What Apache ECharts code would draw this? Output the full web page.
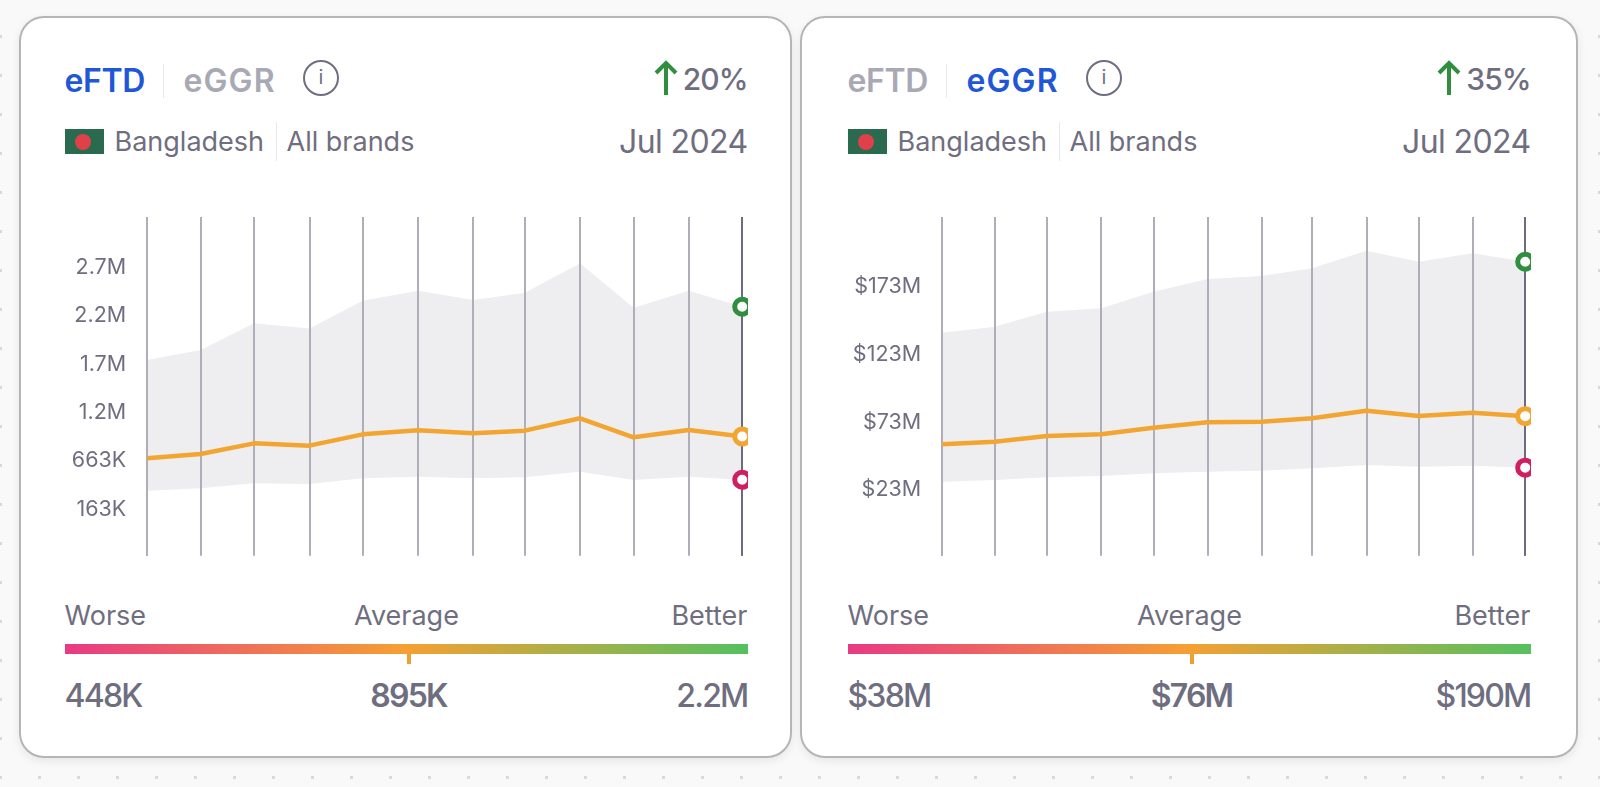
<!DOCTYPE html>
<html>
<head>
<meta charset="utf-8">
<script src="https://cdn.jsdelivr.net/npm/echarts@6/dist/echarts.min.js"></script>
<style>
  html, body { margin: 0; padding: 0; }
  body {
    width: 1600px; height: 787px; overflow: hidden; position: relative;
    font-family: Inter, "Noto Sans", sans-serif; color: #6f6e80;
    background-color: #f9f9f9;
    background-image: radial-gradient(circle, #d9d9d9 1.5px, transparent 2px);
    background-size: 39px 39px;
    background-position: -19px 17px;
  }
  .card {
    position: absolute; top: 15.5px; width: 773px; height: 742px; box-sizing: border-box;
    background: #fff; border: 2px solid #b5b5b8; border-radius: 25px;
    box-shadow: 0 3px 10px rgba(0,0,0,0.08);
  }
  .panel { position: absolute; top: 0; width: 683px; height: 787px; }
  .panel > * { position: absolute; white-space: nowrap; }
  .tab { top: 61px; line-height: 40px; font-size: 32px; font-weight: 600; letter-spacing: -0.4px; color: #a9a9b6; }
  .tab.wide { letter-spacing: 1.1px; }
  .tab.on { color: #1f57d6; }
  .sep { width: 1.5px; background: #e8e8ec; }
  .info {
    left: 238.5px; top: 60px; width: 36px; height: 36px; box-sizing: border-box;
    border: 2.5px solid #6f6e80; border-radius: 50%;
    text-align: center; line-height: 31px; font-size: 20px;
  }
  .pct { right: 0; top: 59px; line-height: 40px; font-size: 30px; font-weight: 500; letter-spacing: -1px; }
  .arrow { top: 60px; }
  .flag { left: 0; top: 129px; width: 39px; height: 25px; background: #2a6a4f; }
  .flag i { position: absolute; left: 10px; top: 4.5px; width: 16px; height: 16px; border-radius: 50%; background: #e0404a; }
  .sub { top: 122px; line-height: 40px; font-size: 27px; }
  .date { right: 0; top: 122px; line-height: 40px; font-size: 32px; letter-spacing: -0.6px; }
  .scale { top: 596px; line-height: 40px; font-size: 27px; }
  .bar {
    left: 0; top: 644px; width: 683px; height: 10px;
    background: linear-gradient(90deg, #e83a84 0%, #f5a033 50%, #55c05f 100%);
  }
  .mark { left: 342px; top: 654px; width: 4px; height: 10px; background: #f0a030; }
  .num { top: 676px; line-height: 40px; font-size: 32px; font-weight: 500; letter-spacing: -1.8px; }
  .chart { position: absolute; left: -5px; top: 200px; width: 688px; height: 370px; }
</style>
</head>
<body>
  <div class="card" style="left:18.5px"></div>
  <div class="card" style="left:799.5px;width:778px"></div>

  <div class="panel" style="left:64.5px">
    <span class="tab on" style="left:0">eFTD</span>
    <div class="sep" style="left:98px;top:64px;height:34px"></div>
    <span class="tab wide" style="left:119px">eGGR</span>
    <div class="info">i</div>
    <svg class="arrow" style="left:588px" width="26" height="36" viewBox="0 0 26 36"><path d="M13 35V3M3 13L13 3L23 13" fill="none" stroke="#2f8f3e" stroke-width="4"/></svg>
    <span class="pct">20%</span>
    <div class="flag"><i></i></div>
    <span class="sub" style="left:50px">Bangladesh</span>
    <div class="sep" style="left:211px;top:122px;height:39px"></div>
    <span class="sub" style="left:222px">All brands</span>
    <span class="date">Jul 2024</span>
    <div class="chart" id="chartFtd"></div>
    <span class="scale" style="left:0">Worse</span>
    <span class="scale" style="left:342px;transform:translateX(-50%)">Average</span>
    <span class="scale" style="right:0">Better</span>
    <div class="bar"></div>
    <div class="mark"></div>
    <span class="num" style="left:0">448K</span>
    <span class="num" style="left:344px;transform:translateX(-50%);font-weight:600">895K</span>
    <span class="num" style="right:0">2.2M</span>
  </div>

  <div class="panel" style="left:847.5px">
    <span class="tab" style="left:0">eFTD</span>
    <div class="sep" style="left:98px;top:64px;height:34px"></div>
    <span class="tab on wide" style="left:119px">eGGR</span>
    <div class="info">i</div>
    <svg class="arrow" style="left:588px" width="26" height="36" viewBox="0 0 26 36"><path d="M13 35V3M3 13L13 3L23 13" fill="none" stroke="#2f8f3e" stroke-width="4"/></svg>
    <span class="pct">35%</span>
    <div class="flag"><i></i></div>
    <span class="sub" style="left:50px">Bangladesh</span>
    <div class="sep" style="left:211px;top:122px;height:39px"></div>
    <span class="sub" style="left:222px">All brands</span>
    <span class="date">Jul 2024</span>
    <div class="chart" id="chartGgr"></div>
    <span class="scale" style="left:0">Worse</span>
    <span class="scale" style="left:342px;transform:translateX(-50%)">Average</span>
    <span class="scale" style="right:0">Better</span>
    <div class="bar"></div>
    <div class="mark"></div>
    <span class="num" style="left:0">$38M</span>
    <span class="num" style="left:344px;transform:translateX(-50%);font-weight:600">$76M</span>
    <span class="num" style="right:0">$190M</span>
  </div>

<script>
const months = ["2023-08-02", "2023-09-01", "2023-10-01", "2023-11-01", "2023-12-01", "2024-01-01",
                "2024-02-01", "2024-03-01", "2024-04-01", "2024-05-01", "2024-06-01", "2024-07-01"];

// eFTD
const ftdAverage = [670000, 714000, 824000, 800000, 917000, 959000, 928000, 955000, 1083000, 886000, 962000, 895000];
const ftdBetter = [1685000, 1788000, 2064000, 2012000, 2298000, 2401000, 2305000, 2380000, 2684000, 2225000, 2401000, 2236000];
const ftdWorse = [335000, 360000, 411000, 404000, 463000, 479000, 463000, 473000, 531000, 445000, 479000, 448000];
const ftdTicks = [163000, 663000, 1163000, 1663000, 2163000, 2663000];
const ftdLabels = ["163K", "663K", "1.2M", "1.7M", "2.2M", "2.7M"];

// eGGR
const ggrAverage = [55200000, 57100000, 61300000, 62600000, 67500000, 71500000, 71900000, 74400000, 80000000, 76100000, 78500000, 76000000];
const ggrBetter = [137600000, 142000000, 153000000, 155600000, 167800000, 177200000, 179400000, 185100000, 198100000, 190000000, 196200000, 190000000];
const ggrWorse = [27600000, 28900000, 30900000, 31800000, 33800000, 35000000, 35700000, 37500000, 39900000, 38700000, 39400000, 38000000];
const ggrTicks = [23000000, 73000000, 123000000, 173000000];
const ggrLabels = ["$23M", "$73M", "$123M", "$173M"];

function pairs(values) {
  return values.map(function (v, i) { return [months[i], v]; });
}

function endMarker(name, values, color) {
  return {
    name: name,
    type: "scatter",
    z: 6,
    clip: false,
    symbol: "circle",
    symbolSize: 15,
    itemStyle: { color: "#fff", borderColor: color, borderWidth: 5, opacity: 1 },
    data: [[months[months.length - 1], values[values.length - 1]]]
  };
}

function drawChart(id, gridLeft, yMin, yMax, ticks, labels, average, better, worse) {
  const chart = echarts.init(document.getElementById(id));
  chart.setOption({
    animation: false,
    grid: { left: gridLeft, right: 5.8, top: 17, bottom: 14.3 },
    xAxis: {
      type: "time",
      z: 2,
      min: months[0],
      max: months[months.length - 1],
      axisLine: { show: false },
      axisTick: { show: false, customValues: months },
      axisLabel: { show: false, customValues: months },
      splitLine: { show: true, lineStyle: { color: "#aeaebb", width: 2 } }
    },
    yAxis: {
      type: "value",
      min: yMin,
      max: yMax,
      axisLine: { show: false },
      axisTick: { show: false, customValues: ticks },
      splitLine: { show: false },
      axisLabel: {
        customValues: ticks,
        margin: 21,
        formatter: function (v) { return "{t|" + labels[ticks.indexOf(v)] + "}"; },
        rich: {
          t: { color: "#6f6e80", fontFamily: "Inter", fontSize: 21.5, padding: [4, 0, 0, 0] }
        }
      }
    },
    series: [
      {
        name: "Worse",
        type: "line",
        stack: "band",
        z: 1,
        symbol: "none",
        lineStyle: { width: 0 },
        data: pairs(worse)
      },
      {
        name: "Range",
        type: "line",
        stack: "band",
        z: 1,
        symbol: "none",
        lineStyle: { width: 0 },
        areaStyle: { color: "#eeeef0", opacity: 1 },
        data: pairs(better.map(function (v, i) { return v - worse[i]; }))
      },
      {
        name: "Average",
        type: "line",
        z: 5,
        symbol: "none",
        lineStyle: { color: "#f2a531", width: 4.5 },
        markLine: {
          silent: true,
          animation: false,
          symbol: "none",
          label: { show: false },
          lineStyle: { color: "#6c6b7d", width: 2, type: "solid" },
          data: [{ xAxis: months[months.length - 1] }]
        },
        data: pairs(average)
      },
      endMarker("Better end", better, "#2f8f3e"),
      endMarker("Average end", average, "#f2a531"),
      endMarker("Worse end", worse, "#cf1f63")
    ]
  });
}

drawChart("chartFtd", 87.2, -337000, 3163000, ftdTicks, ftdLabels, ftdAverage, ftdBetter, ftdWorse);
drawChart("chartGgr", 99.2, -27000000, 223000000, ggrTicks, ggrLabels, ggrAverage, ggrBetter, ggrWorse);
</script>
</body>
</html>
